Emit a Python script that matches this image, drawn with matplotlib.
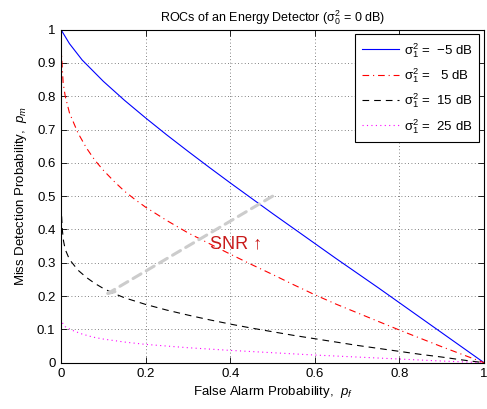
import matplotlib
matplotlib.use("Agg")
import matplotlib.pyplot as plt

plt.rcParams['font.family'] = ['Liberation Sans', 'DejaVu Sans']
plt.rcParams['mathtext.fontset'] = 'custom'
plt.rcParams['mathtext.rm'] = 'Liberation Sans'
plt.rcParams['mathtext.it'] = 'Liberation Sans:italic'
plt.rcParams['mathtext.default'] = 'regular'

# ---- data ----
pf_m5 = [0, 0.02, 0.05, 0.1, 0.15, 0.2, 0.25, 0.3, 0.35, 0.4, 0.45, 0.5,
         0.55, 0.6, 0.65, 0.7, 0.75, 0.8, 0.85, 0.9, 0.95, 1.0]
pm_m5 = [1, 0.958, 0.909, 0.845, 0.788, 0.735, 0.684, 0.635, 0.587, 0.540, 0.494, 0.448,
         0.403, 0.358, 0.313, 0.269, 0.225, 0.180, 0.135, 0.090, 0.045, 0.0]

pf_5 = [0, 0.001, 0.005, 0.01, 0.02, 0.04, 0.06, 0.08, 0.1, 0.125, 0.15, 0.175, 0.2,
        0.25, 0.3, 0.35, 0.4, 0.45, 0.5, 0.55, 0.6, 0.65, 0.7, 0.75, 0.8, 0.85, 0.9, 0.95, 1.0]
pm_5 = [1, 0.93, 0.84, 0.80, 0.75, 0.69, 0.645, 0.608, 0.578, 0.545, 0.515, 0.49, 0.467,
        0.427, 0.39, 0.358, 0.326, 0.295, 0.265, 0.234, 0.204, 0.176, 0.150, 0.124, 0.098,
        0.073, 0.048, 0.024, 0.0]

pf_15 = [0, 0.0002, 0.001, 0.003, 0.006, 0.01, 0.02, 0.04, 0.06, 0.08, 0.1, 0.125, 0.15,
         0.2, 0.25, 0.3, 0.35, 0.4, 0.45, 0.5, 0.55, 0.6, 0.65, 0.7, 0.75, 0.8, 0.85, 0.9,
         0.95, 1.0]
pm_15 = [1, 0.55, 0.45, 0.40, 0.365, 0.34, 0.31, 0.278, 0.256, 0.238, 0.223, 0.208, 0.195,
         0.175, 0.158, 0.143, 0.129, 0.116, 0.104, 0.093, 0.082, 0.072, 0.062, 0.052, 0.043,
         0.034, 0.025, 0.017, 0.008, 0.0]

pf_25 = [0, 0.0002, 0.001, 0.005, 0.01, 0.025, 0.05, 0.075, 0.1, 0.15, 0.2, 0.3, 0.4,
         0.5, 0.6, 0.7, 0.8, 0.9, 1.0]
pm_25 = [1, 0.2, 0.13, 0.115, 0.108, 0.098, 0.086, 0.077, 0.071, 0.062, 0.055, 0.045, 0.037,
         0.030, 0.023, 0.017, 0.011, 0.005, 0.0]

labels = [r'$\sigma_1^2$ =  $-$5 dB', r'$\sigma_1^2$ =   5 dB',
          r'$\sigma_1^2$ =  15 dB', r'$\sigma_1^2$ =  25 dB']
xticks = [0, 0.2, 0.4, 0.6, 0.8, 1]
yticks = [0, 0.1, 0.2, 0.3, 0.4, 0.5, 0.6, 0.7, 0.8, 0.9, 1]

fig = plt.figure(figsize=(4.87, 4.09), dpi=100)
ax = fig.add_axes([0.1253, 0.1132, 0.8686, 0.8142])

ax.plot(pf_m5, pm_m5, color='#0000ff', lw=0.8, linestyle='-', label=labels[0])
ax.plot(pf_5, pm_5, color='#ff0000', lw=0.8, linestyle=(0, (6, 3.5, 1, 3.5)), label=labels[1])
ax.plot(pf_15, pm_15, color='black', lw=0.8, linestyle=(0, (6, 4.5)), label=labels[2])
ax.plot(pf_25, pm_25, color='#ff00ff', lw=0.8, linestyle=(0, (1, 3)), label=labels[3])

ax.annotate('', xy=(0.1, 0.2), xytext=(0.5, 0.5),
            arrowprops=dict(arrowstyle='->,head_length=0.5,head_width=0.15',
                            color='#cccccc', lw=2.2, linestyle=(0, (3, 2)),
                            shrinkA=0, shrinkB=0))
ax.text(0.413, 0.356, 'SNR ↑', color='#c81a1a', fontsize=13,
        ha='center', va='center', family=['Liberation Sans', 'DejaVu Sans'])

ax.set_xlim(0, 1)
ax.set_ylim(0, 1)
ax.set_xticks(xticks)
ax.set_yticks(yticks)
ax.set_xticklabels(['%g' % v for v in xticks], fontsize=9.5)
ax.set_yticklabels(['%g' % v for v in yticks], fontsize=9.5)
ax.tick_params(direction='in', length=4, width=0.6, top=True, right=True, pad=4)
ax.grid(True, color='0.35', linestyle=(0, (1, 3)), lw=0.6)
for s in ax.spines.values():
    s.set_linewidth(0.8)

ax.set_xlabel(r'False Alarm Probability,  $\mathit{p_f}$', fontsize=9.5, labelpad=3)
ax.set_ylabel(r'Miss Detection Probability,  $\mathit{p_m}$', fontsize=9.5, labelpad=6)
ax.set_title(r'ROCs of an Energy Detector ($\sigma_0^2$ = 0 dB)', fontsize=9, pad=6)

leg = ax.legend(loc='upper right', fontsize=9.5, fancybox=False, framealpha=1,
                edgecolor='black', handlelength=2.8, borderaxespad=0.35,
                labelspacing=0.5, handletextpad=0.4, borderpad=0.5)
leg.get_frame().set_linewidth(0.8)

fig.savefig('out.png', dpi=100)
